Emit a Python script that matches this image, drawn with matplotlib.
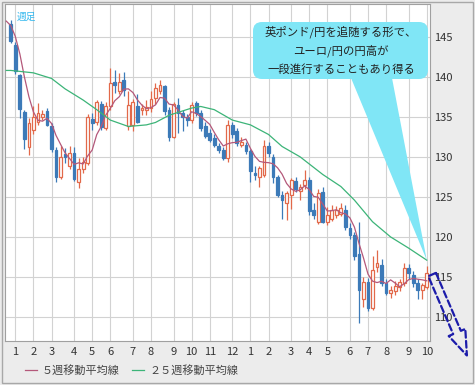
import matplotlib

matplotlib.use("Agg")
import matplotlib.dates as mdates
import matplotlib.pyplot as plt
import pandas as pd
from matplotlib.lines import Line2D
from matplotlib.patches import FancyArrowPatch, FancyBboxPatch, Polygon, Rectangle

plt.rcParams["font.family"] = ["Noto Sans CJK JP", "DejaVu Sans"]

# --- weekly EUR/JPY candles (Monday of each week) -------------------------------------------------
FIRST_WEEK = "2014-12-29"
opens = [146.6, 144.0, 140.2, 135.6, 131.2, 133.4, 134.4, 135.0, 135.7, 133.9,
         130.9, 127.5, 130.4, 128.8, 130.5, 126.9, 128.5, 129.2, 134.7, 134.4,
         136.6, 133.6, 136.3, 139.4, 138.2, 139.6, 133.8, 134.0, 136.3, 135.8,
         135.9, 136.1, 137.3, 138.2, 138.8, 135.9, 132.5, 136.5, 135.5, 135.0,
         134.6, 136.7, 135.5, 133.8, 133.0, 132.3, 131.3, 130.9, 129.8, 134.0,
         133.2, 131.5, 131.5, 130.7, 128.0, 127.5, 127.8, 131.3, 130.0, 127.5,
         125.3, 124.2, 125.3, 127.0, 125.7, 126.5, 127.1, 123.4, 121.9, 125.6,
         121.9, 122.3, 122.8, 122.9, 123.4, 121.1, 120.3, 117.9, 112.3, 114.4,
         111.1, 116.2, 116.5, 114.2, 113.0, 113.2, 113.8, 114.2, 116.1, 115.3,
         114.2, 113.4, 113.8]
highs = [147.1, 144.3, 140.4, 135.9, 134.8, 136.4, 136.7, 135.9, 136.1, 134.2,
         131.2, 131.4, 131.1, 131.3, 131.2, 129.8, 130.0, 135.3, 135.5, 137.1,
         137.0, 136.8, 141.1, 140.9, 140.5, 140.6, 138.2, 137.2, 137.8, 136.6,
         137.1, 138.2, 139.2, 139.6, 139.0, 136.2, 136.9, 137.3, 135.9, 135.4,
         136.9, 137.0, 135.9, 134.3, 133.5, 132.8, 131.7, 131.2, 134.6, 134.4,
         133.6, 132.5, 131.9, 131.0, 128.8, 128.9, 132.1, 131.9, 130.3, 127.8,
         125.8, 125.8, 127.4, 127.5, 126.6, 128.3, 127.5, 124.3, 126.0, 126.3,
         123.8, 124.0, 123.9, 124.2, 124.0, 121.8, 120.6, 121.9, 115.0, 114.9,
         117.6, 118.4, 117.2, 114.7, 113.9, 114.5, 114.8, 116.7, 116.6, 115.8,
         114.8, 114.3, 116.4]
lows = [144.2, 140.3, 134.9, 131.0, 130.2, 132.8, 134.0, 134.6, 133.8, 130.6,
        126.9, 127.2, 129.2, 128.5, 127.0, 126.1, 128.0, 129.0, 133.4, 134.0,
        133.4, 133.3, 135.9, 138.0, 137.8, 137.6, 133.3, 133.2, 134.2, 135.2,
        135.2, 135.6, 136.6, 137.8, 135.2, 132.0, 132.3, 133.0, 133.2, 133.9,
        134.2, 135.1, 133.2, 132.3, 131.9, 131.2, 130.5, 129.6, 129.4, 132.4,
        131.4, 131.2, 130.3, 126.9, 127.1, 126.2, 127.5, 130.0, 126.8, 125.0,
        122.3, 122.1, 123.5, 125.6, 124.6, 126.0, 122.8, 122.3, 121.6, 121.7,
        121.5, 122.0, 122.4, 122.6, 120.9, 119.8, 117.1, 109.3, 111.3, 110.8,
        110.9, 115.6, 113.9, 112.7, 112.4, 112.7, 113.3, 113.9, 114.8, 113.7,
        112.3, 112.2, 113.5]
closes = [144.5, 140.7, 136.0, 132.2, 134.2, 135.0, 135.5, 135.4, 134.0, 131.0,
          127.5, 130.0, 130.0, 130.5, 127.3, 128.5, 129.3, 135.0, 134.2, 136.9,
          133.7, 136.3, 139.2, 139.0, 139.4, 138.4, 136.5, 136.9, 134.4, 136.1,
          136.2, 137.2, 138.6, 139.0, 135.7, 132.5, 136.6, 135.5, 135.0, 134.6,
          136.5, 135.5, 133.6, 132.6, 132.1, 131.5, 130.8, 129.8, 134.0, 132.8,
          131.7, 131.9, 130.7, 128.2, 127.8, 128.6, 131.3, 130.5, 127.5, 125.3,
          124.6, 125.5, 127.1, 126.0, 126.2, 127.1, 123.2, 122.8, 125.5, 121.9,
          122.8, 123.4, 123.4, 123.6, 121.2, 120.3, 117.6, 113.4, 114.4, 111.1,
          115.9, 116.7, 114.2, 113.0, 113.4, 113.9, 114.4, 116.1, 115.5, 114.2,
          113.4, 114.0, 115.5]
# closes of the weeks just before the window (seed the 5-week average)
prior_closes = [147.3, 147.5, 146.9, 146.5, 146.6]

# 25-week moving average, read at points along the line
ma25_dates = ["2014-12-22", "2014-12-29", "2015-02-02", "2015-03-02", "2015-03-23", "2015-04-20",
              "2015-05-11", "2015-06-01", "2015-06-29", "2015-07-27", "2015-08-10", "2015-08-31",
              "2015-10-05", "2015-10-19", "2015-11-09", "2015-12-07", "2016-01-04", "2016-02-01",
              "2016-02-22", "2016-03-21", "2016-04-25", "2016-05-23", "2016-06-13", "2016-07-11",
              "2016-08-08", "2016-09-05", "2016-10-03"]
ma25_vals = [140.8, 140.8, 140.5, 139.8, 138.5, 137.1, 135.9, 134.6, 133.8, 134.0, 134.3, 135.2,
             136.1, 136.3, 135.9, 134.6, 134.0, 132.8, 131.3, 130.0, 127.8, 126.3, 124.6, 121.9,
             120.0, 118.6, 117.1]

y_ticks = [110, 115, 120, 125, 130, 135, 140, 145]
legend_labels = ["５週移動平均線", "２５週移動平均線"]
note_lines = ["英ポンド/円を追随する形で、", "ユーロ/円の円高が", "一段進行することもあり得る"]

UP, DOWN = "#e2694a", "#3c7ab8"
MA5_C, MA25_C = "#b4587a", "#3cb478"
W, H = 475, 385

dates = pd.date_range(FIRST_WEEK, periods=len(closes), freq="W-MON")
x = mdates.date2num(dates)
s = pd.Series(prior_closes + closes)
ma5 = s.rolling(5).mean().dropna().to_numpy()
ma5_x = mdates.date2num(pd.date_range(dates[0] - pd.Timedelta(days=7), periods=len(ma5), freq="W-MON"))
ma25_x = mdates.date2num(pd.to_datetime(ma25_dates))

fig = plt.figure(figsize=(W / 100, H / 100), dpi=100, facecolor="#ececec")
ax = fig.add_axes([5 / W, 1 - 341 / H, 425 / W, 337 / H])
ax.set_facecolor("white")

# candles
for xi, o, h, l, c in zip(x, opens, highs, lows, closes):
    col = UP if c >= o else DOWN
    ax.vlines(xi, l, h, color=col, lw=0.9, zorder=2)
    ax.bar(xi, abs(c - o) or 0.08, bottom=min(o, c), width=4.3,
           facecolor="white" if c >= o else DOWN, edgecolor=col, lw=0.9, zorder=3)

ax.plot(ma5_x, ma5, color=MA5_C, lw=0.9, zorder=4)
ax.plot(ma25_x, ma25_vals, color=MA25_C, lw=0.9, zorder=4)

# month gridlines at the first week of each month (the partial December week gets none)
new_month = dates.month[1:] != dates.month[:-1]
month_start = dates[1:][new_month]
ax.set_xticks(mdates.date2num(month_start))
ax.set_xticklabels([str(d.month) for d in month_start], fontsize=8, color="#333333")
ax.set_xlim(x[0] - 9, x[-1] + 5)
ax.set_ylim(107.0, 149.1)
ax.set_yticks(y_ticks)
ax.yaxis.tick_right()
ax.set_yticklabels([str(v) for v in y_ticks], fontsize=8, color="#333333")
ax.tick_params(length=0, pad=3)
ax.tick_params(axis="x", pad=4)
ax.grid(color="#d2d2d2", lw=0.8)
ax.set_axisbelow(True)
for sp in ax.spines.values():
    sp.set_color("#a0a0a0")

ax.text(12 / 425, 1 - 8 / 337, "週足", transform=ax.transAxes, fontsize=7, color="#33b8ee", va="top")

# outer frame
fig.add_artist(Rectangle((2 / W, 2 / H), 471 / W, 381 / H, transform=fig.transFigure,
                         fill=False, ec="#a8a8a8", lw=1))

# legend
for (x0, lbl, col) in [(25, legend_labels[0], MA5_C), (132, legend_labels[1], MA25_C)]:
    fig.add_artist(Line2D([x0 / W, (x0 + 12) / W], [1 - 370 / H] * 2, transform=fig.transFigure, color=col, lw=0.9))
    fig.text((x0 + 17) / W, 1 - 370 / H, lbl, fontsize=8, color="#444444", va="center")

# callout box with tail pointing at the end of the 25-week average
inch = fig.dpi_scale_trans
tip = ax.transData.transform((ma25_x[-1], ma25_vals[-1])) / fig.dpi
tail = Polygon([(351 / 100, (H - 78) / 100), (392 / 100, (H - 78) / 100), tuple(tip)],
               closed=True, transform=inch, fc="#80e6f6", ec="none", zorder=5)
fig.add_artist(tail)
box = FancyBboxPatch((253 / 100, (H - 79) / 100), 175 / 100, 57 / 100,
                     boxstyle="round,pad=0,rounding_size=0.09", transform=inch,
                     fc="#80e6f6", ec="none", zorder=5)
fig.add_artist(box)
for k, line in enumerate(note_lines):
    fig.text(341 / W, 1 - (32 + 18.5 * k) / H, line, fontsize=8.2, color="#222222",
             ha="center", va="center", zorder=6)

# dashed outline arrow heading lower right
arrow = FancyArrowPatch((431 / 100, (H - 272) / 100), (468 / 100, (H - 358) / 100), transform=inch,
                        arrowstyle="simple,head_width=1.3,head_length=1.8,tail_width=0.6",
                        mutation_scale=10, fc="none", ec="#1c1caa", lw=1.6, linestyle=(0, (3, 1.5)),
                        zorder=6)
fig.add_artist(arrow)

fig.savefig("out.png", dpi=100, facecolor=fig.get_facecolor())
